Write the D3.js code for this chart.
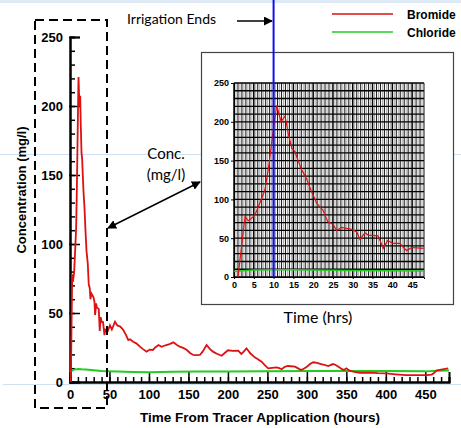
<!DOCTYPE html>
<html>
<head>
<meta charset="utf-8">
<script src="https://cdn.jsdelivr.net/npm/d3@7"></script>
<style>
  body { margin: 0; background: #fff; }
  svg { display: block; }
  .ax text { font-family: "Liberation Sans", Arial, sans-serif; font-weight: bold; }
</style>
</head>
<body>
<div id="chart"></div>
<script>
// bromide (hours, mg/l)
var brTime = [1, 2.8, 3.6, 4.5, 5.3, 6.5, 7.8, 8.7, 9.5, 10.2, 10.8, 11.9, 12.9, 13.7, 14.6, 15.4, 16.2, 17.1, 18.3, 19.6,
  20.9, 22.5, 23.7, 25, 25.9, 27.2, 29.7, 31, 31.8, 33.1, 33.9, 36.4, 37.7, 38.8, 40.2, 41.9, 43.6, 44.9, 47.9,
  50.6, 53, 57, 60, 64, 67.5, 71, 73.8, 76, 80, 84, 88.6, 92, 97, 101, 105, 108, 112, 116, 122, 126, 131, 135, 139,
  144, 148, 152, 156, 160, 164.5, 168, 173, 177, 181, 186, 192, 196, 200, 206, 213, 217, 220, 223.6, 228, 234, 238,
  242.6, 247, 251, 256, 261.6, 265, 268, 272, 276, 285, 290, 293, 297, 300, 304, 308, 313, 318, 322, 327, 333, 336,
  340, 344, 347, 350, 354, 360, 367, 380, 390, 401, 412, 426, 440, 451.5, 458, 461, 464, 470, 479];
var brConc = [0, 78, 72.5, 76, 80, 95, 112, 140, 172, 200, 221, 200, 207.5, 185, 166, 161.5, 150, 138, 127, 110,
  95, 86, 71, 68, 60, 64, 61.5, 58, 48.5, 57, 54, 53, 37, 47, 43.4, 43.4, 34, 38, 37,
  41, 38, 43.7, 41, 40, 37.7, 34, 30.4, 31, 29.2, 28, 25.6, 24, 22, 23.5, 23.2, 25, 26.8, 25.5, 26.8, 27.5, 28.7, 27, 25.6,
  24.5, 23.2, 21, 19.6, 19.5, 19.6, 22, 26.8, 24, 22, 20.5, 19, 21, 23, 22.5, 22.7, 20.3, 22, 24.4, 21, 17.9, 16.5,
  14.7, 12, 9.9, 10.3, 10.6, 10, 9.2, 11, 11.6, 11.1, 9.5, 8.7, 10, 11.1, 13, 14.3, 13.8, 13, 12.5, 11.6, 13, 12.5,
  11.1, 9.5, 8.7, 9.9, 8.2, 7.4, 6.7, 6.8, 6.4, 6.2, 5.6, 5, 5, 5, 5.4, 6.5, 8.2, 9, 9.9];
// chloride (hours, mg/l)
var clTime = [0, 2, 5, 10, 15, 20, 30, 40, 48, 60, 80, 100, 130, 160, 200, 250, 300, 350, 400, 450, 465, 480];
var clConc = [7, 8, 9, 9.5, 9.2, 9, 8.5, 8, 7.8, 7.6, 7.3, 7, 7.4, 7.6, 7.6, 7.8, 8, 8, 7.9, 7.7, 8.2, 8.3];

var mainYTicks = [0, 50, 100, 150, 200, 250];
var mainXTicks = [0, 50, 100, 150, 200, 250, 300, 350, 400, 450];
var insetXTicks = [0, 5, 10, 15, 20, 25, 30, 35, 40, 45];
var insetYTicks = [0, 50, 100, 150, 200, 250];
var irrigationEnd = 10;

var width = 461, height = 428;
var svg = d3.select("#chart").append("svg").attr("width", width).attr("height", height);

var br = brTime.map(function(t, i) { return [t, brConc[i]]; });
var cl = clTime.map(function(t, i) { return [t, clConc[i]]; });

// faint slide guide lines
svg.append("rect").attr("x", 0).attr("y", 0).attr("width", width).attr("height", 3).attr("fill", "#dde9f5");
svg.append("line").attr("x1", 0).attr("x2", width).attr("y1", 154.5).attr("y2", 154.5).attr("stroke", "#cfe0f0");
svg.append("line").attr("x1", 3).attr("x2", width).attr("y1", 384.5).attr("y2", 384.5).attr("stroke", "#cfe0f0");

// main chart
var x = d3.scaleLinear().domain([0, 480]).range([70, 449]);
var y = d3.scaleLinear().domain([0, 250]).range([382, 37]);

var minorX = svg.append("g").attr("class", "ax").attr("transform", "translate(0,382)")
  .call(d3.axisBottom(x).tickValues(d3.range(0, 481, 10)).tickSize(-5).tickFormat(""));
var majorX = svg.append("g").attr("class", "ax").attr("transform", "translate(0,382)")
  .call(d3.axisBottom(x).tickValues(mainXTicks).tickSize(-10).tickPadding(8));
var minorY = svg.append("g").attr("class", "ax").attr("transform", "translate(70,0)")
  .call(d3.axisLeft(y).tickValues(d3.range(0, 251, 10)).tickSize(-5).tickFormat(""));
var majorY = svg.append("g").attr("class", "ax").attr("transform", "translate(70,0)")
  .call(d3.axisLeft(y).tickValues(mainYTicks).tickSize(-10).tickPadding(6));
svg.selectAll(".ax .domain").attr("stroke-width", 2).attr("stroke", "#000");
svg.selectAll(".ax .tick line").attr("stroke-width", 1.5).attr("stroke", "#000");
majorX.selectAll("text").attr("font-size", 13).attr("fill", "#000");
majorY.selectAll("text").attr("font-size", 13).attr("fill", "#000").attr("x", -7);
majorY.selectAll(".tick line").attr("x1", -1);

var line = d3.line().x(function(d) { return x(d[0]); }).y(function(d) { return y(d[1]); });
svg.append("path").datum(cl).attr("d", line).attr("fill", "none").attr("stroke", "#22cc22").attr("stroke-width", 2);
svg.append("path").datum(br).attr("d", line).attr("fill", "none").attr("stroke", "#dd1111").attr("stroke-width", 1.8);

svg.append("text").attr("transform", "translate(26,190) rotate(-90)").attr("text-anchor", "middle")
  .attr("font-family", "Liberation Sans, Arial, sans-serif").attr("font-weight", "bold").attr("font-size", 13)
  .text("Concentration (mg/l)");
svg.append("text").attr("x", 260).attr("y", 422).attr("text-anchor", "middle")
  .attr("font-family", "Liberation Sans, Arial, sans-serif").attr("font-weight", "bold").attr("font-size", 13.5)
  .text("Time From Tracer Application (hours)");

// dashed box around first 48 h
svg.append("rect").attr("x", 35).attr("y", 20).attr("width", 72).attr("height", 388)
  .attr("fill", "none").attr("stroke", "#000").attr("stroke-width", 2).attr("stroke-dasharray", "9,5");

// inset
svg.append("rect").attr("x", 201.5).attr("y", 52.5).attr("width", 252).attr("height", 252)
  .attr("fill", "#fff").attr("stroke", "#444").attr("stroke-width", 1.2);

var ix = d3.scaleLinear().domain([0, 48]).range([234, 424]);
var iy = d3.scaleLinear().domain([0, 250]).range([277, 83]);
var grid = svg.append("g");
grid.selectAll(".v").data(d3.range(0, 48.1, 0.5)).enter().append("line")
  .attr("x1", function(d) { return ix(d); }).attr("x2", function(d) { return ix(d); })
  .attr("y1", iy(0)).attr("y2", iy(250))
  .attr("stroke", function(d) { return d % 5 === 0 ? "#000" : (d % 1 === 0 ? "#222" : "#888"); })
  .attr("stroke-width", function(d) { return d % 5 === 0 ? 1.5 : (d % 1 === 0 ? 1.1 : 0.7); });
grid.selectAll(".h").data(d3.range(0, 251, 10)).enter().append("line")
  .attr("x1", ix(0)).attr("x2", ix(48))
  .attr("y1", function(d) { return iy(d); }).attr("y2", function(d) { return iy(d); })
  .attr("stroke", "#000").attr("stroke-width", 1.3);

var ixAxis = svg.append("g").attr("class", "ax").attr("transform", "translate(0,277)")
  .call(d3.axisBottom(ix).tickValues(insetXTicks).tickSize(2).tickPadding(3));
var iyAxis = svg.append("g").attr("class", "ax").attr("transform", "translate(234,0)")
  .call(d3.axisLeft(iy).tickValues(insetYTicks).tickSize(3).tickPadding(2));
svg.selectAll(".ax text").attr("fill", "#000");
ixAxis.selectAll("text").attr("font-size", 9);
iyAxis.selectAll("text").attr("font-size", 9);
ixAxis.select(".domain").attr("stroke-width", 1);
iyAxis.select(".domain").attr("stroke-width", 1);

var iline = d3.line().x(function(d) { return ix(d[0]); }).y(function(d) { return iy(d[1]); });
svg.append("path").datum(cl.filter(function(d) { return d[0] <= 48; })).attr("d", iline)
  .attr("fill", "none").attr("stroke", "#22cc22").attr("stroke-width", 1.5);
svg.append("path").datum(br.filter(function(d) { return d[0] <= 48; })).attr("d", iline)
  .attr("fill", "none").attr("stroke", "#dd1111").attr("stroke-width", 1.2);

svg.append("text").attr("x", 318).attr("y", 323).attr("text-anchor", "middle")
  .attr("font-family", "Lato, 'Open Sans', sans-serif").attr("font-size", 16).text("Time (hrs)");

// irrigation end marker
svg.append("line").attr("x1", ix(irrigationEnd)).attr("x2", ix(irrigationEnd)).attr("y1", 0).attr("y2", iy(0))
  .attr("stroke", "#1010ee").attr("stroke-width", 2);

var defs = svg.append("defs");
defs.append("marker").attr("id", "ah").attr("viewBox", "0 0 10 10").attr("refX", 9).attr("refY", 5)
  .attr("markerWidth", 6).attr("markerHeight", 6).attr("orient", "auto-start-reverse")
  .append("path").attr("d", "M0,0L10,5L0,10z").attr("fill", "#000");

svg.append("text").attr("x", 127).attr("y", 24)
  .attr("font-family", "Lato, 'Open Sans', sans-serif").attr("font-size", 14).text("Irrigation Ends");
svg.append("line").attr("x1", 237).attr("x2", 272).attr("y1", 21).attr("y2", 21)
  .attr("stroke", "#000").attr("stroke-width", 1.5).attr("marker-end", "url(#ah)");

svg.append("text").attr("x", 166).attr("y", 159).attr("text-anchor", "middle")
  .attr("font-family", "Lato, 'Open Sans', sans-serif").attr("font-size", 15).text("Conc.");
svg.append("text").attr("x", 166).attr("y", 180).attr("text-anchor", "middle")
  .attr("font-family", "Lato, 'Open Sans', sans-serif").attr("font-size", 15).text("(mg/l)");
svg.append("line").attr("x1", 108).attr("y1", 228).attr("x2", 200).attr("y2", 182)
  .attr("stroke", "#000").attr("stroke-width", 1.5)
  .attr("marker-start", "url(#ah)").attr("marker-end", "url(#ah)");

// legend
var legend = [["Bromide", "#dd1111", 14], ["Chloride", "#22cc22", 32]];
legend.forEach(function(l) {
  svg.append("line").attr("x1", 332).attr("x2", 393).attr("y1", l[2]).attr("y2", l[2])
    .attr("stroke", l[1]).attr("stroke-width", 1.5);
  svg.append("text").attr("x", 407).attr("y", l[2] + 4.5)
    .attr("font-family", "Liberation Sans, Arial, sans-serif").attr("font-weight", "bold").attr("font-size", 12)
    .text(l[0]);
});
</script>
</body>
</html>
